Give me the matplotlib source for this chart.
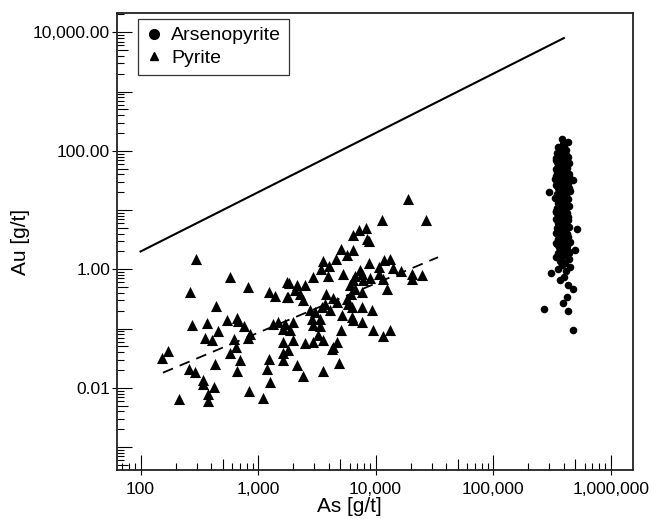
import matplotlib
matplotlib.use('Agg')
import matplotlib.pyplot as plt
from matplotlib.lines import Line2D
from matplotlib.ticker import FixedLocator, FuncFormatter, NullFormatter
import numpy as np

plt.rcParams['font.family'] = ['Liberation Sans', 'DejaVu Sans']

# pyrite analyses, As and Au in g/t
py_as = [297, 574, 826, 265, 1233, 1396, 1754, 1754, 442, 273,
         366, 548, 659, 680, 760, 454, 354, 404, 855, 826,
         625, 650, 578, 170, 151, 703, 434, 260, 291, 667,
         1241, 1199, 1265, 1641, 1698, 1489, 1349, 1641, 1641, 1641,
         342, 338, 423, 378, 378, 214, 838, 1109,
         18780, 11350, 26730, 8299, 7282, 6397, 8414, 8853, 5085, 6397,
         5689, 4613, 3556, 4045, 3420, 5321, 3918, 2958, 8853, 7634,
         11800, 13280, 10640, 14170, 16370, 20320, 24730, 20450, 10770, 11650,
         8974, 7870, 12450, 6397, 6067, 6693, 7634, 6152, 5689, 5873,
         6270, 7634, 9290, 1845, 2133, 2512, 2064, 2275, 1811, 2430,
         3793, 4375, 4677, 3715, 3483, 2770, 3055, 4102, 5152, 6270,
         2864, 3371, 2958, 3371, 1995, 1871, 5085, 6397, 7634, 9572,
         13280, 11650, 3260, 3597, 2512, 2958, 1972, 1811, 4677, 4375,
         4240, 2133, 4921, 3597, 2399, 6693, 7379]
py_au = [1.48, 0.74, 0.50, 0.41, 0.41, 0.35, 0.61, 0.34, 0.24, 0.116,
         0.124, 0.138, 0.15, 0.134, 0.11, 0.091, 0.070, 0.063, 0.082, 0.069,
         0.066, 0.049, 0.038, 0.042, 0.032, 0.030, 0.025, 0.0205, 0.0184, 0.0194,
         0.031, 0.0205, 0.0125, 0.0995, 0.121, 0.129, 0.121, 0.059, 0.038, 0.029,
         0.0137, 0.0114, 0.0103, 0.0079, 0.0059, 0.0064, 0.0089, 0.0068,
         15.6, 6.9, 6.9, 5.06, 4.56, 3.85, 3.30, 3.01, 2.18, 2.10,
         1.72, 1.52, 1.38, 1.12, 1.01, 0.846, 0.762, 0.741, 1.28, 0.846,
         1.46, 1.52, 1.09, 1.05, 0.925, 0.846, 0.792, 0.697, 0.846, 0.697,
         0.724, 0.652, 0.472, 0.652, 0.537, 0.472, 0.414, 0.389, 0.320, 0.264,
         0.231, 0.231, 0.209, 0.596, 0.537, 0.537, 0.454, 0.389, 0.340, 0.300,
         0.389, 0.327, 0.280, 0.264, 0.231, 0.209, 0.190, 0.203, 0.167, 0.156,
         0.147, 0.147, 0.113, 0.109, 0.129, 0.0933, 0.0958, 0.138, 0.129, 0.0933,
         0.0958, 0.0738, 0.0768, 0.0649, 0.0569, 0.0592, 0.0632, 0.0428, 0.0592, 0.0487,
         0.0457, 0.0239, 0.0261, 0.0191, 0.0158, 0.762, 0.98]

# arsenopyrite analyses, As in thousand g/t, Au in g/t
apy_as_k = [385, 437, 400, 360, 420, 375, 350, 410, 390, 365,
            430, 342, 395, 372, 418, 352, 445, 380, 405, 358,
            392, 428, 340, 370, 412, 384, 353, 398, 440, 366,
            425, 345, 388, 405, 335, 378, 418, 360, 395, 435,
            368, 402, 345, 386, 428, 355, 415, 374, 296, 448,
            382, 350, 420, 362, 396, 338, 432, 372, 408, 388,
            356, 418, 380, 442, 348, 395, 368, 412, 340, 428,
            385, 360, 424, 398, 346, 436, 375, 408, 354, 390,
            415, 368, 445, 352, 516, 385, 402, 342, 428, 376,
            395, 434, 358, 408, 370, 450, 346, 388, 422, 362,
            400, 499, 380, 430, 355, 414, 392, 346, 440, 368,
            405, 385, 450, 360, 418, 310, 398, 370, 434, 482,
            424, 396, 273, 437, 482, 362, 420, 482, 355, 395,
            404, 378, 418, 388, 352, 444, 392, 374, 408, 382,
            346, 370, 446, 395, 412, 362, 385, 434, 354, 404,
            414, 398, 378, 350, 440, 408, 340, 390, 422, 372]
apy_au = [160, 140, 125, 118, 105, 98, 92, 88, 85, 80,
          78, 75, 72, 70, 68, 65, 62, 60, 58, 55,
          54, 52, 50, 48, 47, 45, 44, 42, 40, 39,
          38, 37, 36, 35, 34, 33, 32, 31, 30, 29,
          28, 27, 26, 25, 24.5, 24, 23, 22, 20, 21,
          19.5, 19, 18, 17.5, 17, 16, 15.5, 15, 14, 13.5,
          13, 12.5, 12, 11.5, 11, 10.5, 10, 9.6, 9.2, 8.8,
          8.5, 8.1, 7.8, 7.5, 7.2, 6.9, 6.6, 6.3, 6.0, 5.8,
          5.5, 5.3, 5.1, 4.9, 4.8, 4.5, 4.3, 4.1, 3.9, 3.8,
          3.6, 3.5, 3.3, 3.2, 3.0, 2.9, 2.8, 2.6, 2.5, 2.4,
          2.3, 2.1, 2.1, 2.0, 1.9, 1.8, 1.7, 1.6, 1.5, 1.4,
          1.3, 1.2, 1.1, 1.0, 0.95, 0.87, 0.75, 0.65, 0.55, 0.47,
          0.34, 0.27, 0.21, 0.20, 0.093, 55, 42, 32, 26, 18,
          9, 7, 5, 3.7, 2.7, 1.85, 130, 95, 66, 48,
          70, 50, 36, 28, 22, 16, 11, 7.5, 4.4, 3.1,
          85, 62, 45, 30, 24, 14, 9.8, 6.2, 4.0, 2.6]
apy_as = np.array(apy_as_k) * 1000

# solubility limit line and pyrite trend
limit_as = [100, 400000]
limit_au = [2, 8000]
trend_as = [155, 34000]
trend_au = [0.018, 1.6]

fig = plt.figure(figsize=(6.51, 5.19), dpi=100)
ax = fig.add_axes([117/651, 49/519, 516/651, 457/519])

ax.plot(limit_as, limit_au, color='black', lw=1.5)
ax.plot(trend_as, trend_au, color='black', lw=1.3, dashes=(6, 4))
ax.scatter(py_as, py_au, marker='^', s=64, color='black', linewidths=0, zorder=3)
ax.scatter(apy_as, apy_au, marker='o', s=30, color='black', linewidths=0, zorder=3)

ax.set_xscale('log')
ax.set_yscale('log')
ax.set_xlim(63, 1.55e6)
ax.set_ylim(4.1e-4, 21200)

dec_x = [10.0**k for k in range(1, 7)]
dec_y = [10.0**k for k in range(-4, 5)]
minor_x = [d * 10.0**k for k in range(1, 7) for d in (2, 3, 4, 6, 7, 8, 9)]
minor_y = [d * 10.0**k for k in range(-4, 5) for d in (2, 3, 4, 6, 7, 8, 9)]
five_x = [5 * 10.0**k for k in range(1, 7)]
five_y = [5 * 10.0**k for k in range(-4, 5)]
lab_y = [1e-2, 1, 1e2, 1e4]

ax.xaxis.set_major_locator(FixedLocator(dec_x))
ax.xaxis.set_minor_locator(FixedLocator(minor_x))
ax.xaxis.set_major_formatter(FuncFormatter(lambda v, p: '{:,.0f}'.format(v)))
ax.xaxis.set_minor_formatter(NullFormatter())
ax.yaxis.set_major_locator(FixedLocator(dec_y))
ax.yaxis.set_minor_locator(FixedLocator(minor_y))
ax.yaxis.set_major_formatter(FuncFormatter(
    lambda v, p: '{:,.2f}'.format(v) if any(abs(v / l - 1) < 1e-6 for l in lab_y) else ''))
ax.yaxis.set_minor_formatter(NullFormatter())

ax.tick_params(which='major', direction='in', length=11, width=0.8, labelsize=12.5,
               top=False, right=False)
ax.tick_params(axis='x', which='major', pad=9)
ax.tick_params(axis='y', which='major', pad=5)
ax.tick_params(which='minor', direction='in', length=5, width=0.8, top=False, right=False)

# medium ticks at 5 and small outward stubs at labelled ticks
secx = ax.secondary_xaxis('bottom')
secx.xaxis.set_major_locator(FixedLocator(five_x))
secx.xaxis.set_minor_locator(FixedLocator(dec_x))
secx.tick_params(which='major', direction='in', length=8, width=0.8, labelbottom=False)
secx.tick_params(which='minor', direction='out', length=3.5, width=0.8, labelbottom=False)
secy = ax.secondary_yaxis('left')
secy.yaxis.set_major_locator(FixedLocator(five_y))
secy.yaxis.set_minor_locator(FixedLocator(lab_y))
secy.tick_params(which='major', direction='in', length=8, width=0.8, labelleft=False)
secy.tick_params(which='minor', direction='out', length=3.5, width=0.8, labelleft=False)
for sec in (secx, secy):
    for s in sec.spines.values():
        s.set_visible(False)

for s in ax.spines.values():
    s.set_linewidth(1.3)
    s.set_color('#222222')

ax.set_xlabel('As [g/t]', fontsize=15, labelpad=0)
ax.xaxis.set_label_coords(0.45, -0.058, transform=ax.transAxes)
ax.xaxis.label.set_va('top')
ax.set_ylabel('Au [g/t]', fontsize=15, labelpad=2)

handles = [Line2D([], [], ls='none', marker='o', ms=7, color='black'),
           Line2D([], [], ls='none', marker='^', ms=6, color='black')]
leg = ax.legend(handles, ['Arsenopyrite', 'Pyrite'], loc='upper left',
                bbox_to_anchor=(0.041, 0.987), borderaxespad=0, fontsize=14,
                fancybox=False, edgecolor='#333333', framealpha=1,
                handlelength=0.8, handletextpad=0.5, labelspacing=0.25, borderpad=0.4)
leg.get_frame().set_linewidth(0.9)

fig.savefig('out.png', dpi=100)
